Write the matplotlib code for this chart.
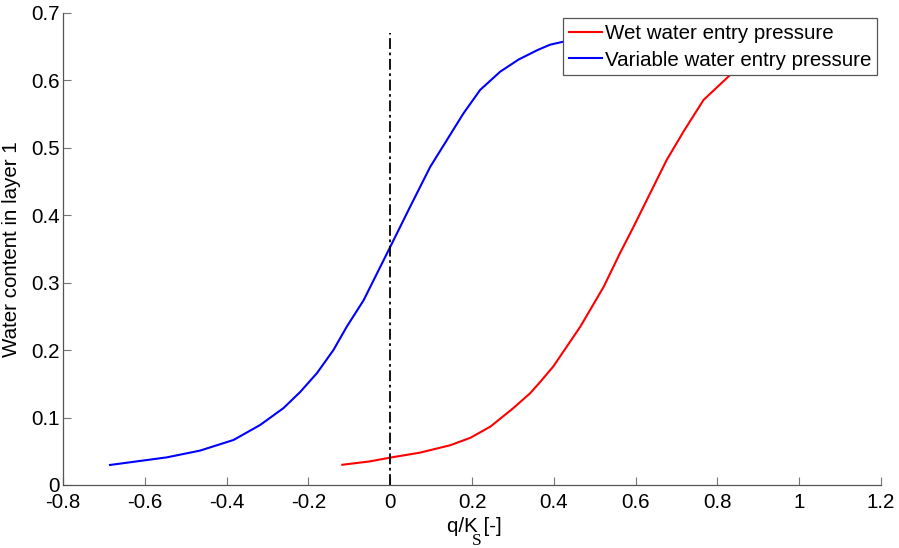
import matplotlib
matplotlib.use("Agg")
import matplotlib.pyplot as plt

plt.rcParams['font.family'] = ['Liberation Sans', 'DejaVu Sans']
plt.rcParams['axes.unicode_minus'] = False

# Data
blue_x = [-0.685, -0.546, -0.465, -0.383, -0.318, -0.261, -0.220, -0.179, -0.139, -0.106,
          -0.065, 0.0, 0.049, 0.098, 0.139, 0.179, 0.220, 0.269, 0.314, 0.36, 0.391, 0.42, 0.5]
blue_y = [0.0297, 0.041, 0.051, 0.0668, 0.089, 0.114, 0.138, 0.166, 0.200, 0.235,
          0.274, 0.353, 0.413, 0.472, 0.512, 0.551, 0.586, 0.613, 0.631, 0.645, 0.653, 0.657, 0.665]

red_x = [-0.117, -0.05, 0.0, 0.073, 0.147, 0.196, 0.245, 0.301, 0.342, 0.367, 0.399,
         0.465, 0.522, 0.562, 0.595, 0.644, 0.676, 0.717, 0.766, 0.831, 0.9, 0.95]
red_y = [0.030, 0.035, 0.0406, 0.048, 0.059, 0.070, 0.0866, 0.114, 0.136, 0.153, 0.176,
         0.235, 0.294, 0.344, 0.383, 0.443, 0.482, 0.524, 0.571, 0.608, 0.640, 0.655]

vline_x = [0.0, 0.0]
vline_y = [0.0, 0.67]

x_ticks = [-0.8, -0.6, -0.4, -0.2, 0, 0.2, 0.4, 0.6, 0.8, 1, 1.2]
x_tick_labels = ['-0.8', '-0.6', '-0.4', '-0.2', '0', '0.2', '0.4', '0.6', '0.8', '1', '1.2']
y_ticks = [0, 0.1, 0.2, 0.3, 0.4, 0.5, 0.6, 0.7]
y_tick_labels = ['0', '0.1', '0.2', '0.3', '0.4', '0.5', '0.6', '0.7']

FS = 14.8

fig = plt.figure(figsize=(8.99, 5.48), dpi=100)
ax = fig.add_axes([63/899, (548-485)/548, (881-63)/899, (485-13)/548])

ax.plot(red_x, red_y, color='#ff0000', lw=1.5, label='Wet water entry pressure')
ax.plot(blue_x, blue_y, color='#0000ff', lw=1.5, label='Variable water entry pressure')
ax.plot(vline_x, vline_y, color='black', lw=1.3, linestyle=(0, (6, 2, 1.5, 2)))

ax.set_xlim(-0.8, 1.2)
ax.set_ylim(0, 0.7)
ax.set_xticks(x_ticks)
ax.set_xticklabels(x_tick_labels)
ax.set_yticks(y_ticks)
ax.set_yticklabels(y_tick_labels)

for s in ['top', 'right']:
    ax.spines[s].set_visible(False)
for s in ['left', 'bottom']:
    ax.spines[s].set_color('#555555')
    ax.spines[s].set_linewidth(0.9)

ax.tick_params(direction='in', length=6, width=0.8, color='#777777', labelsize=FS,
               labelcolor='black')
ax.tick_params(axis='y', pad=2)
ax.tick_params(axis='x', pad=6)

ax.set_ylabel('Water content in layer 1', fontsize=FS)
ax.yaxis.set_label_coords((21 - 63) / 818, 0.5)

# x label: q/K_S [-] with serif subscript S
fig.text(447/899, (548-532)/548, 'q/K [-]', fontsize=FS, ha='left', va='baseline')
fig.text(472/899, (548-545)/548, 'S', fontsize=12.5, family='Liberation Serif',
         ha='left', va='baseline')

leg = ax.legend(loc='upper right', bbox_to_anchor=(0.9955, 0.9895), fontsize=FS,
                frameon=True, fancybox=False, edgecolor='#555555', framealpha=1,
                handlelength=1.6, handletextpad=0.15, borderpad=0.28,
                labelspacing=0.38, borderaxespad=0)
leg.get_frame().set_linewidth(0.9)

fig.savefig('out.png', dpi=100)
